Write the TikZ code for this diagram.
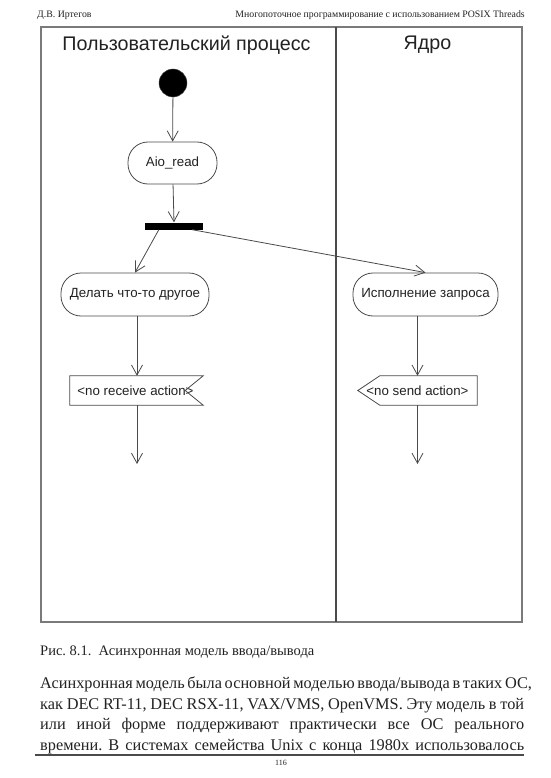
\documentclass[tikz,border=0pt]{standalone}
\usepackage{fontspec}
\setmainfont{Liberation Serif}
\newfontfamily\diagfont{Liberation Sans}
\usetikzlibrary{arrows.meta}
\definecolor{linecol}{HTML}{4A4A4A}
\definecolor{framecol}{HTML}{7A7A7A}
\definecolor{txtcol}{HTML}{222222}
\frenchspacing
\begin{document}
\begin{tikzpicture}[x=1pt,y=-1pt,
  flow/.style={draw=linecol, line width=0.8pt, -{Straight Barb[length=10pt,width=11pt]}},
  act/.style={draw=linecol, line width=0.8pt, rounded corners=20pt, inner sep=0pt,
    text=txtcol, font=\diagfont\fontsize{13.3}{15}\selectfont},
  sigtext/.style={inner sep=0pt, text=txtcol, font=\diagfont\fontsize{13.3}{15}\selectfont},
  sigshape/.style={draw=linecol, line width=0.8pt, line join=miter},
  lanetitle/.style={text=txtcol, font=\diagfont\fontsize{19.7}{22}\selectfont},
  headtext/.style={inner sep=0pt, anchor=base, text=txtcol, font=\fontsize{9.8}{11}\selectfont},
  bodyline/.style={inner sep=0pt, anchor=base west, text=txtcol, font=\fontsize{16.3}{20}\selectfont},
]
\useasboundingbox (0,0) rectangle (550,778);
\fill[white] (0,0) rectangle (550,778);

% header
\node[headtext, anchor=base west] (hl) at (37,18) {Д.В. Иртегов};
\node[headtext, anchor=base east] (hr) at (525,18) {Многопоточное программирование с использованием POSIX Threads};

% frame and lanes
\draw[framecol, line width=1.6pt] (41,27) rectangle (522,622);
\draw[linecol, line width=1.2pt] (336,27) -- (336,622);
\node[lanetitle] (t1) at (186.5,45) {Пользовательский процесс};
\node[lanetitle] (t2) at (427.5,45) {Ядро};

% nodes
\node[circle, fill=black, draw=linecol, minimum size=28pt, inner sep=0pt] (start) at (173,83) {};
\node[act, minimum width=89pt, minimum height=42pt] (aio) at (172.5,163) {Aio\_read};
\node[fill=black, minimum width=58pt, minimum height=7pt, inner sep=0pt] (bar) at (174,226) {};
\node[act, minimum width=148pt, minimum height=43pt] (delat) at (135,294.5) {Делать что-то другое};
\node[act, minimum width=145pt, minimum height=43pt] (ispoln) at (425.5,294.5) {Исполнение запроса};

\node[sigtext, minimum width=133pt, minimum height=29pt] (recv) at (136.5,390.5) {\kern-2pt<no receive action>};
\draw[sigshape] (recv.north west) -- (recv.north east) -- ([xshift=-18pt]recv.east) -- (recv.south east) -- (recv.south west) -- cycle;

\node[sigtext, minimum width=119pt, minimum height=29pt] (send) at (417.5,390.5) {<no send action>};
\draw[sigshape] (send.west) -- ([xshift=22pt]send.north west) -- (send.north east) -- (send.south east) -- ([xshift=22pt]send.south west) -- cycle;

\coordinate (recvend) at (137,464);
\coordinate (sendend) at (417.5,464);

% connectors
\draw[flow] (start) -- (aio);
\draw[flow] (aio) -- (bar.north);
\draw[flow] ([xshift=14pt]bar.south west) -- (delat.north);
\draw[flow] ([xshift=-11pt]bar.south east) -- (ispoln.north);
\draw[flow] ([xshift=2pt]delat.south) -- (recvend |- recv.north);
\draw[flow] (recvend |- recv.south) -- (recvend);
\draw[flow] (send.north |- ispoln.south) -- (send.north);
\draw[flow] (send.south) -- (sendend);

% caption and body text
\node[bodyline, font=\fontsize{14.5}{17}\selectfont] (cap) at (40,655) {Рис. 8.1.\ \ Асинхронная модель ввода/вывода};
\node[bodyline] (l1) at (40,688.5) {\makebox[484pt][s]{Асинхронная модель была основной моделью ввода/вывода в таких ОС,}};
\node[bodyline] (l2) at (40,709) {\makebox[484pt][s]{как DEC RT-11, DEC RSX-11, VAX/VMS, OpenVMS. Эту модель в той}};
\node[bodyline] (l3) at (40,729.5) {\makebox[484pt][s]{или иной форме поддерживают практически все ОС реального}};
\node[bodyline] (l4) at (40,750) {\makebox[484pt][s]{времени. В системах семейства Unix с конца 1980х использовалось}};
\draw[linecol, line width=1.2pt] (35,755) -- (524,755);
\node[headtext, font=\fontsize{8}{9}\selectfont] (pg) at (281,765) {116};
\end{tikzpicture}
\end{document}
